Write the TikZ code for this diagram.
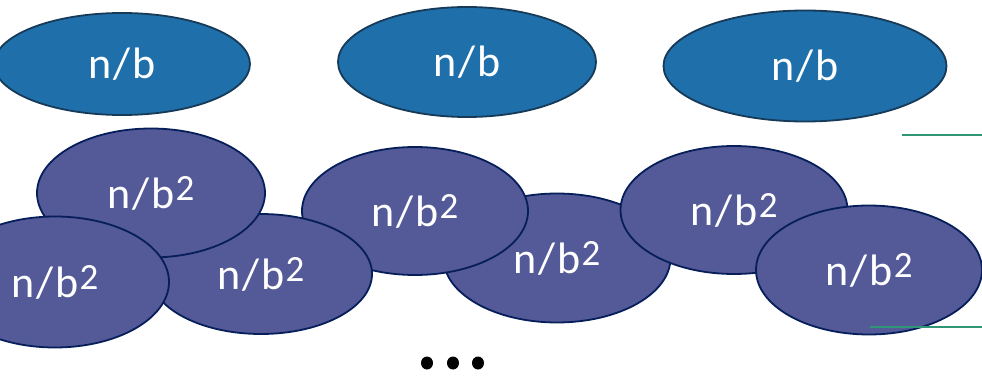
\documentclass[tikz,border=0pt]{standalone}
\usepackage{graphicx}
\usepackage{fontspec}
\setmainfont{Carlito}[Numbers=Lining]
\usetikzlibrary{shapes.geometric}
\definecolor{topfill}{RGB}{31,112,170}
\definecolor{topline}{RGB}{22,58,88}
\definecolor{subfill}{RGB}{84,89,152}
\definecolor{subline}{RGB}{6,30,90}
\definecolor{rule}{RGB}{48,150,118}
\tikzset{
  topell/.style={ellipse, draw=topline, fill=topfill, line width=1.8pt, inner sep=0pt,
    text=white, font=\fontsize{44}{46}\selectfont},
  subell/.style={ellipse, draw=subline, fill=subfill, line width=1.8pt, inner sep=0pt,
    text=white, font=\fontsize{44}{46}\selectfont},
  dotmark/.style={ellipse, fill=black, inner sep=0pt, minimum width=12pt, minimum height=13pt},
  rulestyle/.style={draw=rule, line width=1.3pt}
}
\newcommand{\nbtxt}{n\kern2pt/\kern2pt b}
\newcommand{\nbsq}{\nbtxt\kern1pt\raisebox{8pt}{\resizebox{!}{24pt}{2}}}
\begin{document}
\begin{tikzpicture}[x=1pt,y=-1pt]
\useasboundingbox (0,0) rectangle (982,377);
% top row
\node[topell, minimum width=256pt, minimum height=102pt] (t1) at (122,64) {\nbtxt};
\node[topell, minimum width=258pt, minimum height=110pt] (t2) at (467,62) {\nbtxt};
\node[topell, minimum width=283pt, minimum height=111pt] (t3) at (805,66) {\nbtxt};
% second level
\node[subell, minimum width=227pt, minimum height=129pt] (e) at (557,258) {\nbsq};
\node[subell, minimum width=227pt, minimum height=128pt] (f) at (734,210) {\nbsq};
\node[subell, minimum width=226pt, minimum height=129pt] (g) at (869,270) {\nbsq};
\node[subell, minimum width=226pt, minimum height=128pt] (d) at (415,211) {\nbsq};
\node[subell, minimum width=222pt, minimum height=120pt] (c) at (261,274) {\nbsq};
\node[subell, minimum width=228pt, minimum height=129pt] (a) at (151,193) {\nbsq};
\node[subell, minimum width=228pt, minimum height=131pt] (b) at (55,282) {\nbsq};
% rules on the right
\coordinate (r1a) at (902,135);
\coordinate (r1b) at (982,135);
\coordinate (r2a) at (870,327);
\coordinate (r2b) at (982,327);
\draw[rulestyle] (r1a) -- (r1b);
\draw[rulestyle] (r2a) -- (r2b);
% ellipsis dots
\node[dotmark] (p1) at (427,363) {};
\node[dotmark] (p2) at (453,363) {};
\node[dotmark] (p3) at (478,363) {};
\end{tikzpicture}
\end{document}
